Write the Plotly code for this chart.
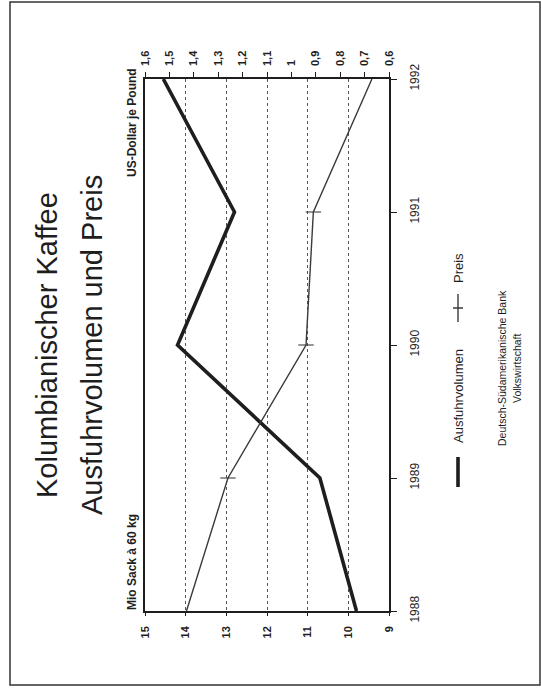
import plotly.graph_objects as go

# ---- data ----
years = [1988, 1989, 1990, 1991, 1992]
volume = [9.8, 10.7, 14.2, 12.8, 14.55]          # Mio Sack à 60 kg
price = [1.43, 1.26, 0.94, 0.91, 0.67]           # US-Dollar je Pound
volume_ticks = [9, 10, 11, 12, 13, 14, 15]
price_ticks = [1.6, 1.5, 1.4, 1.3, 1.2, 1.1, 1.0, 0.9, 0.8, 0.7, 0.6]
price_ticktext = ["1,6", "1,5", "1,4", "1,3", "1,2", "1,1", "1", "0,9", "0,8", "0,7", "0,6"]
year_ticks = [1988, 1989, 1990, 1991, 1992]

W, H = 541, 692
L, R, T, B = 145, 389, 79, 611   # plot area in pixels


def px(x):
    return (x - L) / (R - L)


def py(y):
    return (B - y) / (B - T)


FONT = "Liberation Sans, Arial, sans-serif"
INK = "#1e1e1e"
GREY = "#3a3a3a"

# markers only on the inner points (the end points sit on the axis lines)
marker_sizes = [0, 11, 11, 11, 0]

fig = go.Figure()
fig.add_trace(go.Scatter(
    x=volume, y=years, mode="lines", xaxis="x", yaxis="y",
    line=dict(color=INK, width=3.6), name="Ausfuhrvolumen", showlegend=False))
fig.add_trace(go.Scatter(
    x=price, y=years, mode="lines+markers", xaxis="x2", yaxis="y",
    line=dict(color=GREY, width=1.4),
    marker=dict(symbol="line-ew", size=marker_sizes, line=dict(color=GREY, width=1.5)),
    name="Preis", showlegend=False))

fig.update_layout(
    width=W, height=H,
    margin=dict(l=L, r=W - R, t=T, b=H - B, pad=0),
    paper_bgcolor="white", plot_bgcolor="white",
    showlegend=False,
    xaxis=dict(
        range=[15, 9], tickvals=volume_ticks, tickangle=-90,
        tickfont=dict(family=FONT, size=11, color=INK, weight="bold"),
        showgrid=True, gridcolor="#555", griddash="dot", gridwidth=1,
        zeroline=False, showline=True, linecolor=INK, linewidth=1.6,
        ticks="outside", ticklen=3, tickcolor=INK, ticklabelstandoff=6,
        side="bottom", fixedrange=True),
    xaxis2=dict(
        range=[1.6, 0.6], tickvals=price_ticks, ticktext=price_ticktext,
        tickangle=-90, overlaying="x", side="top", anchor="y",
        tickfont=dict(family=FONT, size=11, color=INK, weight="bold"),
        showgrid=False, zeroline=False, showline=True, linecolor=INK, linewidth=1.6,
        ticks="outside", ticklen=5, tickcolor=INK, ticklabelstandoff=4),
    yaxis=dict(
        range=[1988, 1992], tickvals=year_ticks, tickangle=-90, side="right",
        tickfont=dict(family=FONT, size=12, color=INK),
        showgrid=False, zeroline=False, showline=True, mirror=True,
        linecolor=INK, linewidth=1.6,
        ticks="outside", ticklen=6, tickcolor=INK, ticklabelstandoff=8),
)

ann = []


def text(x, y, s, size, bold=False):
    ann.append(dict(
        x=px(x), y=py(y), xref="paper", yref="paper", text=s, showarrow=False,
        textangle=-90, xanchor="center", yanchor="middle",
        font=dict(family=FONT, size=size, color=INK, weight="bold" if bold else "normal")))


text(47, 345, "Kolumbianischer Kaffee", 29)
text(92, 345, "Ausfuhrvolumen und Preis", 29)
text(132, 562, "Mio Sack à 60 kg", 12, bold=True)
text(132, 123, "US-Dollar je Pound", 12, bold=True)
text(458, 396, "Ausfuhrvolumen", 13)
text(458, 268, "Preis", 13)
text(502, 368, "Deutsch-Südamerikanische Bank", 10.5)
text(517, 368, "Volkswirtschaft", 10.5)
fig.update_layout(annotations=ann)

shapes = [
    # outer frame
    dict(type="rect", xref="paper", yref="paper",
         x0=px(10), x1=px(540), y0=py(685), y1=py(2),
         line=dict(color="#333", width=1.5)),
    # legend: Ausfuhrvolumen
    dict(type="line", xref="paper", yref="paper",
         x0=px(458), x1=px(458), y0=py(487), y1=py(457),
         line=dict(color=INK, width=3.6)),
    # legend: Preis
    dict(type="line", xref="paper", yref="paper",
         x0=px(458), x1=px(458), y0=py(322), y1=py(294),
         line=dict(color=GREY, width=1.4)),
    dict(type="line", xref="paper", yref="paper",
         x0=px(453), x1=px(463), y0=py(308), y1=py(308),
         line=dict(color=GREY, width=1.5)),
]
fig.update_layout(shapes=shapes)

fig.write_html("out.html")
